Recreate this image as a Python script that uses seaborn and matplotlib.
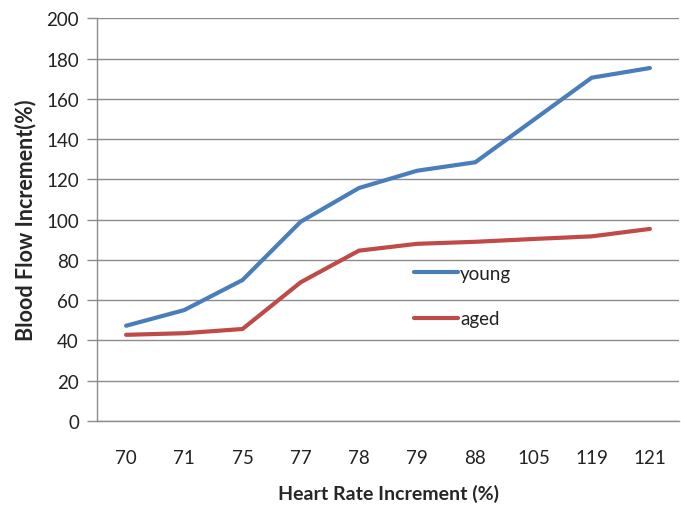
import pandas as pd
import matplotlib
matplotlib.use("Agg")
import matplotlib.pyplot as plt
import seaborn as sns

# valores
heart_rate = ["70", "71", "75", "77", "78", "79", "88", "105", "119", "121"]
young = [47.3, 55.1, 70.0, 99.0, 115.7, 124.3, 128.5, 149.5, 170.5, 175.3]
aged = [42.8, 43.6, 45.7, 68.9, 84.6, 88.0, 89.0, 90.4, 91.7, 95.4]

df = pd.DataFrame({
    "Heart Rate": heart_rate * 2,
    "Blood Flow": young + aged,
    "Grupo": ["young"] * len(young) + ["aged"] * len(aged),
})

sns.set_theme(style="white")
plt.rcParams["font.family"] = ["Lato", "DejaVu Sans"]

fig = plt.figure(figsize=(6.81, 5.10), dpi=100)
ax = fig.add_axes([97 / 681, 1 - 422 / 510, (679 - 97) / 681, (422 - 19.3) / 510])

sns.lineplot(data=df, x="Heart Rate", y="Blood Flow", hue="Grupo", sort=False,
             palette={"young": "#4A7EBB", "aged": "#BE4B48"}, linewidth=3.0,
             solid_capstyle="round", ax=ax)

ax.set_xlim(-0.5, len(heart_rate) - 0.5)
ax.set_ylim(0, 200)
ax.set_yticks(range(0, 201, 20))
ax.grid(axis="y", color="#8c8c8c", linewidth=1.0)
ax.grid(axis="x", visible=False)
ax.set_axisbelow(True)

for lado in ["top", "right"]:
    ax.spines[lado].set_visible(False)
for lado in ["left", "bottom"]:
    ax.spines[lado].set_color("#8c8c8c")
    ax.spines[lado].set_linewidth(1.0)

ax.tick_params(axis="y", length=7, color="#8c8c8c", width=1.0, labelsize=13.5,
               labelcolor="#222222", pad=6, left=True)
ax.tick_params(axis="x", length=0, labelsize=13.5, labelcolor="#222222", pad=20)

ax.set_xlabel("Heart Rate Increment (%)", fontsize=14, fontweight="bold", labelpad=13)
ax.set_ylabel("Blood Flow Increment(%)", fontsize=15.5, fontweight="bold", labelpad=7)

handles, labels = ax.get_legend_handles_labels()
ax.legend(handles, labels, frameon=False, loc="center left",
          bbox_to_anchor=(414 / 681, 1 - 297 / 510), bbox_transform=fig.transFigure,
          borderpad=0, borderaxespad=0, handlelength=2.35, handletextpad=0.1,
          labelspacing=1.5, fontsize=13.5, labelcolor="#222222")

fig.savefig("out.png", dpi=100)
